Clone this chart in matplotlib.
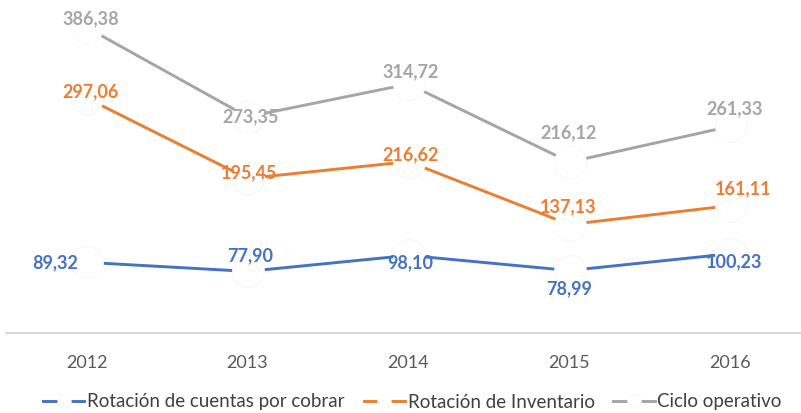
import matplotlib
matplotlib.use("Agg")
import matplotlib.pyplot as plt

years = ["2012", "2013", "2014", "2015", "2016"]
cuentas = [89.32, 77.90, 98.10, 78.99, 100.23]
inventario = [297.06, 195.45, 216.62, 137.13, 161.11]
ciclo = [386.38, 273.35, 314.72, 216.12, 261.33]

plt.rcParams['font.family'] = ['Lato', 'DejaVu Sans']

fig = plt.figure(figsize=(8.01, 4.13), dpi=100)
ax = fig.add_axes([6/801, 80/413, 795/801, 333/413])

colors = ["#4472C4", "#ED7D31", "#A5A5A5"]
labels = ["Rotación de cuentas por cobrar", "Rotación de Inventario", "Ciclo operativo"]
series = [cuentas, inventario, ciclo]
# label offsets in pixels (dx, dy), per series
offsets = [
    [(-31, 0), (3, 16), (2, -7), (0, -18), (4, -8)],
    [(4, 6), (1, 6), (2, 7), (-1, 18), (13, 17)],
    [(4, 9), (3, 0), (2, 12), (-1, 29), (4, 18)],
]
x = list(range(len(years)))
for s, c, lab, offs in zip(series, colors, labels, offsets):
    ax.plot(x, s, color=c, lw=2.1, marker='o', markersize=23,
            markerfacecolor='white', markeredgecolor='#f6f6f6',
            markeredgewidth=0.6, label=lab, zorder=2)
    for xi, v, (dx, dy) in zip(x, s, offs):
        ax.annotate(f"{v:.2f}".replace('.', ','), (xi, v), xytext=(dx, dy),
                    textcoords='offset pixels', ha='center', va='center',
                    color=c, fontsize=13, fontweight='bold', zorder=5)

ax.set_xlim(-0.5, -0.5 + 795/161)
ax.set_ylim(0, 333/0.791)
for sp in ['top', 'right', 'left']:
    ax.spines[sp].set_visible(False)
ax.spines['bottom'].set_color('#d9d9d9')
ax.spines['bottom'].set_linewidth(1.5)
ax.set_yticks([])
ax.set_xticks(x)
ax.set_xticklabels(years, color='#595959', fontsize=13)
ax.tick_params(axis='x', length=0, pad=16)

leg = fig.legend(loc='center', bbox_to_anchor=(0.515, 11/413), ncol=3,
                 frameon=False, fontsize=13.5, handlelength=2.2,
                 columnspacing=1.0, handletextpad=0.15, markerscale=0.42)
for t in leg.get_texts():
    t.set_color('#404040')

fig.savefig("out.png", dpi=100)
